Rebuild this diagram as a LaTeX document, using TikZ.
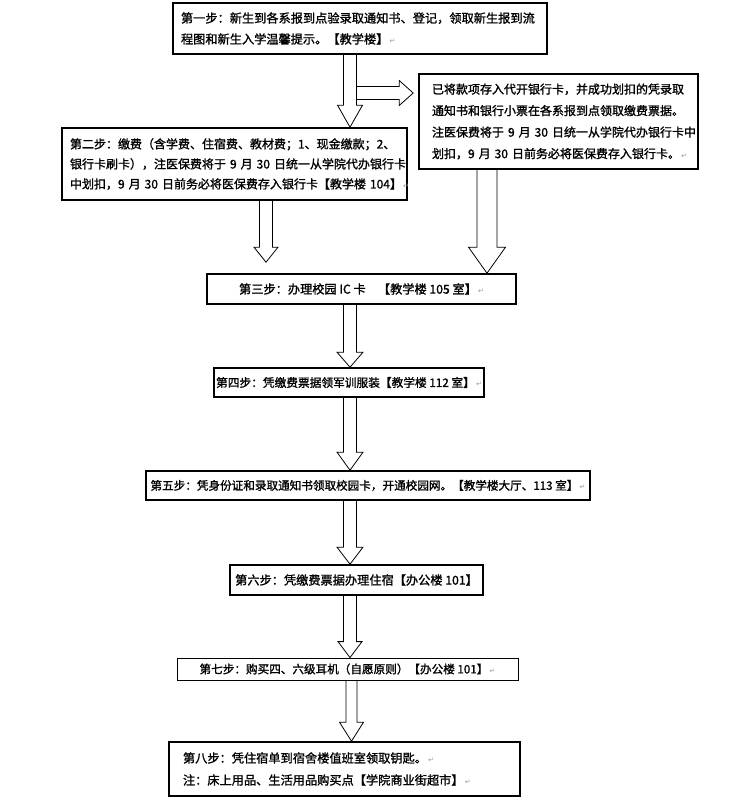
\documentclass[tikz,border=0pt]{standalone}
\usepackage{fontspec}
\setmainfont{Noto Sans CJK SC}[FakeBold=1.3]
\newfontfamily\symfont{DejaVu Sans}
\usetikzlibrary{calc}

% paragraph mark at line ends
\newcommand{\ret}{{\symfont\fontsize{7pt}{7pt}\selectfont\color{gray!80}\,↵}}

% hollow block arrows: from, to, shaft half width, head half width, head length
\newcommand{\blockdown}[5]{%
  \draw[hollow] let \p1=(#1), \p2=(#2) in
    (\x1-#3pt,\y1) -- (\x1-#3pt,\y2+#5pt) -- (\x1-#4pt,\y2+#5pt) -- (\x1,\y2)
    -- (\x1+#4pt,\y2+#5pt) -- (\x1+#3pt,\y2+#5pt) -- (\x1+#3pt,\y1);}
\newcommand{\blockright}[5]{%
  \draw[hollow] let \p1=(#1), \p2=(#2) in
    (\x1,\y1+#3pt) -- (\x2-#5pt,\y1+#3pt) -- (\x2-#5pt,\y1+#4pt) -- (\x2,\y1)
    -- (\x2-#5pt,\y1-#4pt) -- (\x2-#5pt,\y1-#3pt) -- (\x1,\y1-#3pt);}

\begin{document}
\begin{tikzpicture}[
  x=1pt, y=-1pt,
  every node/.style={font=\fontsize{12.2pt}{21pt}\selectfont},
  stepbox/.style={draw, line width=1.6pt, fill=white, inner xsep=8pt, inner ysep=2pt, align=left},
  linebox/.style={stepbox, align=center, inner xsep=2pt},
  hollow/.style={draw, line width=0.8pt, line join=miter}
]
\useasboundingbox (0,0) rectangle (739,797);

% Steps
\node[stepbox, minimum width=374pt, minimum height=51pt, text width=358pt] (first) at (360,28.5)
  {第一步：新生到各系报到点验录取通知书、登记，领取新生报到流\\程图和新生入学温馨提示。【教学楼】\ret};
\node[stepbox, inner xsep=13pt, font=\fontsize{12pt}{21.5pt}\selectfont, minimum width=279pt, minimum height=95pt, text width=253pt] (bank) at (558.5,121.5)
  {已将款项存入代开银行卡，并成功划扣的凭录取\\通知书和银行小票在各系报到点领取缴费票据。\\注医保费将于~9~月~30~日统一从学院代办银行卡中\\划扣，9~月~30~日前务必将医保费存入银行卡。\ret};
\node[stepbox, font=\fontsize{12pt}{20pt}\selectfont, minimum width=345pt, minimum height=72pt, text width=329pt] (second) at (234.5,164)
  {第二步：缴费（含学费、住宿费、教材费；1、现金缴款；2、\\银行卡刷卡），注医保费将于~9~月~30~日统一从学院代办银行卡\\中划扣，9~月~30~日前务必将医保费存入银行卡【教学楼~104】\ret};
\node[linebox, minimum width=309pt, minimum height=30pt] (third) at (361.5,289)
  {第三步：办理校园 IC 卡\quad【教学楼 105 室】\ret};
\node[linebox, font=\fontsize{11.7pt}{14pt}\selectfont, minimum width=268pt, minimum height=29pt] (fourth) at (349,382.5)
  {第四步：凭缴费票据领军训服装【教学楼 112 室】\ret};
\node[linebox, font=\fontsize{11.6pt}{14pt}\selectfont, minimum width=444pt, minimum height=29pt] (fifth) at (368,485.5)
  {第五步：凭身份证和录取通知书领取校园卡，开通校园网。【教学楼大厅、113 室】\ret};
\node[linebox, minimum width=253pt, minimum height=30pt] (sixth) at (356.5,580)
  {第六步：凭缴费票据办理住宿【办公楼 101】};
\node[linebox, font=\fontsize{11.6pt}{14pt}\selectfont, line width=0.8pt, minimum width=341pt, minimum height=22pt, inner ysep=0pt] (seventh) at (347.5,669)
  {第七步：购买四、六级耳机（自愿原则）【办公楼 101】\ret};
\node[stepbox, inner xsep=14pt, font=\fontsize{12.2pt}{22pt}\selectfont, minimum width=351pt, minimum height=54pt, text width=323pt] (eighth) at (344.5,769)
  {第八步：凭住宿单到宿舍楼值班室领取钥匙。\ret\\注：床上用品、生活用品购买点【学院商业街超市】\ret};

\coordinate (fork) at (356,93);

% Block arrows
\blockdown{350,0 |- first.south}{350,0 |- second.north}{6.5}{12.5}{22}
\blockright{fork}{$(bank.west)+(-5,0)$}{6.5}{12.5}{14}
\blockdown{266,0 |- second.south}{$(266,0 |- third.north)+(0,-11)$}{6.5}{12}{15}
\blockdown{487,0 |- bank.south}{487,0 |- third.north}{10}{18.5}{26}
\blockdown{350,0 |- third.south}{350,0 |- fourth.north}{6.5}{13}{15}
\blockdown{350,0 |- fourth.south}{350,0 |- fifth.north}{6.5}{13}{18}
\blockdown{350,0 |- fifth.south}{350,0 |- sixth.north}{6.5}{13}{17}
\blockdown{350,0 |- sixth.south}{350,0 |- seventh.north}{6.5}{12}{16}
\blockdown{351.5,0 |- seventh.south}{351.5,0 |- eighth.north}{5.5}{12}{19}
\end{tikzpicture}
\end{document}
